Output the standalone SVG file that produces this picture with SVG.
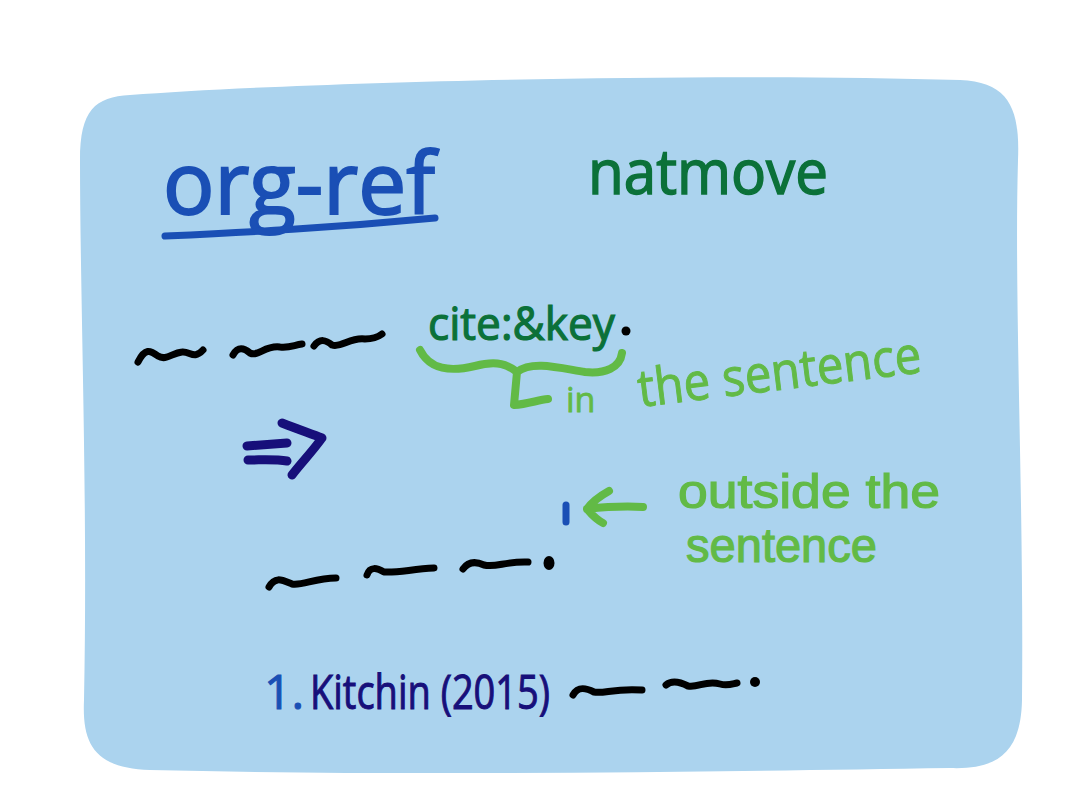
<svg xmlns="http://www.w3.org/2000/svg" width="1084" height="796" viewBox="0 0 1084 796">
<style>
.hand{font-family:"Open Sans","Liberation Sans",sans-serif;}
.hand2{font-family:"Liberation Sans","Open Sans",sans-serif;}
.sq{fill:none;stroke:#000;stroke-width:7;stroke-linecap:round;stroke-linejoin:round;}
.gr{fill:none;stroke:#62BA46;stroke-width:8;stroke-linecap:round;stroke-linejoin:round;}
.nv{fill:none;stroke:#170F7A;stroke-width:9;stroke-linecap:round;stroke-linejoin:round;}
.bl{fill:none;stroke:#1A4FB5;stroke-width:7;stroke-linecap:round;}
</style>
<rect width="1084" height="796" fill="#fff"/>
<path id="panel" d="M130,95 C300,82 700,72 960,80 C1010,82 1020,110 1018,160 C1014,300 1024,500 1022,700 C1021,750 1000,770 950,768 C700,772 400,776 150,770 C95,768 82,745 84,700 C88,500 80,300 80,160 C80,110 95,97 130,95 Z" fill="#ABD3EE"/>
<g id="title-orgref">
<text class="hand" x="163" y="214" font-size="86" fill="#1A4FB5" stroke="#1A4FB5" stroke-width="2" textLength="272" lengthAdjust="spacingAndGlyphs">org-ref</text>
<path class="bl" d="M165,236 C250,232 330,228 435,218" stroke-width="6"/>
</g>
<g id="title-natmove">
<text class="hand" x="588" y="194" font-size="62" fill="#0B7139" stroke="#0B7139" stroke-width="1.5" textLength="240" lengthAdjust="spacingAndGlyphs">natmove</text>
</g>
<g id="line1">
<path class="sq" d="M138,362 C145,348 150,350 158,356 C166,361 172,353 182,352 C190,351 194,360 203,350"/>
<path class="sq" d="M233,355 C238,346 244,348 250,353 C258,357 265,345 280,347 C290,348 294,345 302,344"/>
<path class="sq" d="M314,346 C320,338 326,340 332,345 C342,348 350,337 365,339 C372,339 378,337 382,334"/>
<text class="hand" x="428" y="340" font-size="46" fill="#0B7139" stroke="#0B7139" stroke-width="1.2" textLength="187" lengthAdjust="spacingAndGlyphs">cite:&amp;key</text>
<circle cx="626" cy="331" r="4.5" fill="#000"/>
</g>
<g id="in-sentence">
<path class="gr" d="M420,350 C430,370 450,372 475,366 C498,360 508,365 517,372 C532,360 560,368 585,372 C605,374 620,368 622,353 M517,372 L514,405 C528,404 538,400 548,399"/>
<text class="hand" x="566" y="412" font-size="34" fill="#62BA46" stroke="#62BA46" stroke-width="0.8">in</text>
<text class="hand" x="640" y="407" font-size="52" fill="#62BA46" stroke="#62BA46" stroke-width="1" transform="rotate(-7 640 407)" textLength="285" lengthAdjust="spacingAndGlyphs">the   sentence</text>
</g>
<g id="implies">
<path class="nv" d="M247,446 C262,445 275,444 287,443"/>
<path class="nv" d="M248,460 C262,460 275,459 287,461"/>
<path class="nv" d="M282,423 C300,430 312,434 322,438 C312,452 302,462 292,475"/>
</g>
<g id="line2">
<path class="sq" d="M269,587 C275,576 282,580 292,584 C302,586 315,578 336,578"/>
<path class="sq" d="M367,575 C370,566 377,568 384,572 C398,573 412,569 434,568"/>
<path class="sq" d="M463,569 C468,562 475,561 484,565 C496,568 505,561 528,562"/>
<ellipse cx="549" cy="563" rx="5.5" ry="7" fill="#000"/>
<path class="bl" d="M566,505 L566,522" stroke-width="6"/>
</g>
<g id="connectors">
<path class="gr" d="M643,507 C625,506 605,507 587,509 M609,491 C600,496 592,502 587,509 C592,515 597,520 603,523"/>
</g>
<g id="outside-label">
<text class="hand2" x="678" y="508" font-size="48" fill="#62BA46" stroke="#62BA46" stroke-width="1.2" textLength="262" lengthAdjust="spacingAndGlyphs">outside  the</text>
<text class="hand2" x="686" y="562" font-size="48" fill="#62BA46" stroke="#62BA46" stroke-width="1.2" textLength="191" lengthAdjust="spacingAndGlyphs">sentence</text>
</g>
<g id="reference">
<text class="hand" x="264" y="709" font-size="48" fill="#1A4FB5" stroke="#1A4FB5" stroke-width="1">1.</text>
<text class="hand" x="310" y="709" font-size="48" fill="#170F7A" stroke="#170F7A" stroke-width="1" textLength="240" lengthAdjust="spacingAndGlyphs">Kitchin (2015)</text>
<path class="sq" d="M573,695 C578,686 586,688 594,692 C604,694 614,688 642,690"/>
<path class="sq" d="M666,685 C672,680 680,682 688,686 C698,688 706,680 720,684 C727,686 732,684 737,683"/>
<circle cx="755" cy="682" r="5" fill="#000"/>
</g>
</svg>
